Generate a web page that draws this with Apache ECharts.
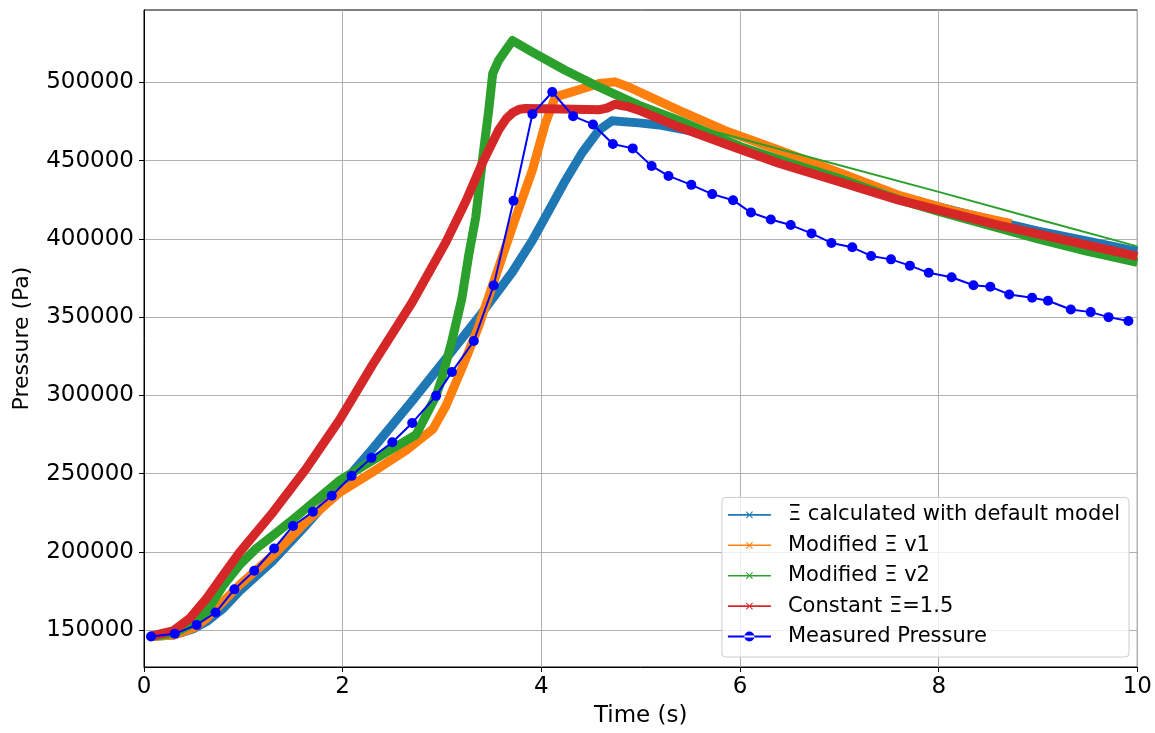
<!DOCTYPE html>
<html>
<head>
<meta charset="utf-8">
<script src="https://cdn.jsdelivr.net/npm/echarts@6/dist/echarts.min.js"></script>
<style>
html,body{margin:0;padding:0;background:#fff;}
#c{width:1155px;height:733px;}
</style>
</head>
<body>
<div id="c"></div>
<script>
const xTicks = [0, 2, 4, 6, 8, 10];
const yTicks = [150000, 200000, 250000, 300000, 350000, 400000, 450000, 500000];

const seriesNames = ['Ξ calculated with default model', 'Modified Ξ v1', 'Modified Ξ v2', 'Constant Ξ=1.5', 'Measured Pressure'];

const timeDefault = [0.06,0.3,0.5,0.63,0.8,0.96,1.3,1.63,1.97,2.3,2.7,3.04,3.37,3.71,3.91,4.08,4.24,4.41,4.58,4.71,4.98,5.21,5.5,6,6.5,7,7.5,8,8.5,9,9.5,10];
const presDefault = [146000,147000,151000,155500,164000,175000,194500,217000,241500,265800,296500,323500,350000,379000,399000,418500,437000,455000,469500,475400,474100,472600,469000,458500,448000,439000,429000,420500,412500,405000,398500,392000];

const timeV1 = [0.06,0.3,0.5,0.63,0.96,1.3,1.63,1.97,2.3,2.64,2.91,3.04,3.21,3.37,3.54,3.71,3.91,4.04,4.14,4.31,4.58,4.74,4.88,5.38,5.88,6.39,6.99,7.59,8.2,8.73];
const presV1 = [146000,147000,151500,157600,178800,197900,219200,238000,251000,265000,278600,293400,318800,344300,376100,407900,444000,473700,490700,493900,499200,500300,497000,482200,468400,456700,442500,428000,417000,409700];

const timeV2 = [0.06,0.3,0.46,0.63,0.8,0.96,1.13,1.3,1.47,1.97,2.3,2.74,2.94,3.0,3.1,3.2,3.27,3.34,3.41,3.47,3.51,3.57,3.64,3.71,3.91,4.24,4.58,4.98,5.38,6,6.5,7,7.6,8,8.6,9,9.5,10];
const presV2 = [146000,148000,153400,161900,178800,191600,202200,210600,219200,245700,258400,275000,299700,311000,335000,362000,390000,414000,452000,482000,505500,514000,520400,526700,519300,507700,497000,485400,475800,459000,448500,438500,425000,417500,407000,400000,392000,385000];

const timeV2Tail = [5.45,6.59,8.0,9.0,10];
const presV2Tail = [473500,454000,430000,412500,395200];

const timeConst = [0.06,0.29,0.46,0.63,0.8,0.96,1.13,1.3,1.63,1.97,2.3,2.7,3.04,3.24,3.41,3.57,3.65,3.71,3.78,3.84,4.2,4.58,4.66,4.74,4.88,4.98,5.38,5.88,6.39,6.99,7.59,8.59,10];
const presConst = [146000,149500,157600,170400,185500,199500,212500,225500,253000,284500,319500,359500,398000,424000,449000,469500,477000,480500,482800,483300,483000,482500,483500,486000,484300,482200,471600,459900,448300,436600,424900,409000,388800];

const timeMeas = [0.07,0.31,0.53,0.72,0.91,1.11,1.31,1.50,1.70,1.89,2.09,2.29,2.50,2.70,2.94,3.10,3.32,3.52,3.72,3.91,4.11,4.32,4.52,4.72,4.92,5.11,5.28,5.51,5.72,5.93,6.11,6.31,6.51,6.72,6.92,7.13,7.32,7.52,7.71,7.90,8.13,8.35,8.52,8.71,8.94,9.10,9.33,9.53,9.71,9.91];
const presMeas = [146000,147700,153400,161300,176100,188000,202200,216600,225700,235900,248600,260100,270100,282400,299700,315000,334700,370200,424400,479700,493800,478400,473100,460600,457800,446600,440200,434500,428600,424700,416800,412400,408800,403500,397400,394600,389100,386900,382900,378300,375500,370400,369400,364500,362400,360500,354900,353200,350000,347500];

const colors = ['#1f77b4', '#ff7f0e', '#2ca02c', '#d62728', '#0000ff'];

function zip(t, p) { return t.map((x, i) => [x, p[i]]); }

const iconX = 'path://M0,0 L0.01,0 L0,0.01 Z M43,10 L42.99,10 L43,9.99 Z M0,4.2 L43,4.2 L43,5.8 L0,5.8 Z M18,2.1 L18.7,1.4 L25,7.9 L24.3,8.6 Z M24.3,1.4 L25,2.1 L18.7,8.6 L18,7.9 Z';
const iconO = 'path://M0,0 L0.01,0 L0,0.01 Z M43,10 L42.99,10 L43,9.99 Z M0,4 L43,4 L43,6 L0,6 Z M16.5,5 A5,5 0 1 0 26.5,5 A5,5 0 1 0 16.5,5 Z';

const FONT = 'DejaVu Sans';

const chart = echarts.init(document.getElementById('c'), null, {renderer: 'canvas'});

function thick(name, data, color) {
  return {
    name: name, type: 'line', data: data, showSymbol: false, symbol: 'none',
    lineStyle: {color: color, width: 9, join: 'round', cap: 'butt'},
    itemStyle: {color: color},
    animation: false, emphasis: {disabled: true}
  };
}

const option = {
  animation: false,
  textStyle: {fontFamily: FONT},
  grid: {left: 144, right: 15, top: 10, bottom: 63, show: true, borderColor: '#000', borderWidth: 1, backgroundColor: 'transparent'},
  xAxis: {
    type: 'value', min: 0, max: 10, interval: 2,
    name: 'Time (s)', nameLocation: 'middle', nameGap: 38,
    nameTextStyle: {fontSize: 23, color: '#000', fontFamily: FONT},
    axisLine: {show: true, lineStyle: {color: '#000', width: 1}},
    axisTick: {show: true, inside: false, length: 5, lineStyle: {color: '#000'}, customValues: xTicks},
    axisLabel: {fontSize: 23, color: '#000', margin: 9, fontFamily: FONT, customValues: xTicks},
    splitLine: {show: true, lineStyle: {color: '#b0b0b0', width: 1}}
  },
  yAxis: {
    type: 'value', min: 126500, max: 546200,
    name: 'Pressure (Pa)', nameLocation: 'middle', nameGap: 111,
    nameTextStyle: {fontSize: 22, color: '#000', fontFamily: FONT},
    axisLine: {show: true, lineStyle: {color: '#000', width: 1}},
    axisTick: {show: true, inside: false, length: 5, lineStyle: {color: '#000'}, customValues: yTicks},
    axisLabel: {fontSize: 23, color: '#000', margin: 10, fontFamily: FONT, customValues: yTicks, formatter: v => String(v)},
    splitLine: {show: true, lineStyle: {color: '#b0b0b0', width: 1}}
  },
  legend: {
    orient: 'vertical', right: 26, bottom: 76,
    backgroundColor: 'rgba(255,255,255,0.8)', borderColor: '#cccccc', borderWidth: 1, borderRadius: 4,
    padding: [7, 9, 10, 6],
    itemWidth: 43, itemHeight: 10, itemGap: 9.4,
    textStyle: {fontSize: 21, lineHeight: 21, color: '#000', fontFamily: FONT, padding: [0, 0, 0, 12]},
    itemStyle: {borderWidth: 0},
    data: [
      {name: seriesNames[0], icon: iconX, itemStyle: {color: colors[0], borderWidth: 0}},
      {name: seriesNames[1], icon: iconX, itemStyle: {color: colors[1], borderWidth: 0}},
      {name: seriesNames[2], icon: iconX, itemStyle: {color: colors[2], borderWidth: 0}},
      {name: seriesNames[3], icon: iconX, itemStyle: {color: colors[3], borderWidth: 0}},
      {name: seriesNames[4], icon: iconO, itemStyle: {color: colors[4], borderWidth: 0}}
    ]
  },
  series: [
    thick(seriesNames[0], zip(timeDefault, presDefault), colors[0]),
    thick(seriesNames[1], zip(timeV1, presV1), colors[1]),
    thick(seriesNames[2], zip(timeV2, presV2), colors[2]),
    {
      name: seriesNames[2] + ' ', type: 'line', data: zip(timeV2Tail, presV2Tail), showSymbol: false, symbol: 'none',
      lineStyle: {color: colors[2], width: 2}, itemStyle: {color: colors[2]}, emphasis: {disabled: true}
    },
    thick(seriesNames[3], zip(timeConst, presConst), colors[3]),
    {
      name: seriesNames[4], type: 'line', data: zip(timeMeas, presMeas),
      symbol: 'circle', symbolSize: 10, showSymbol: true,
      lineStyle: {color: colors[4], width: 2}, itemStyle: {color: colors[4], borderWidth: 0},
      emphasis: {disabled: true}
    }
  ]
};
chart.setOption(option);
</script>
</body>
</html>
